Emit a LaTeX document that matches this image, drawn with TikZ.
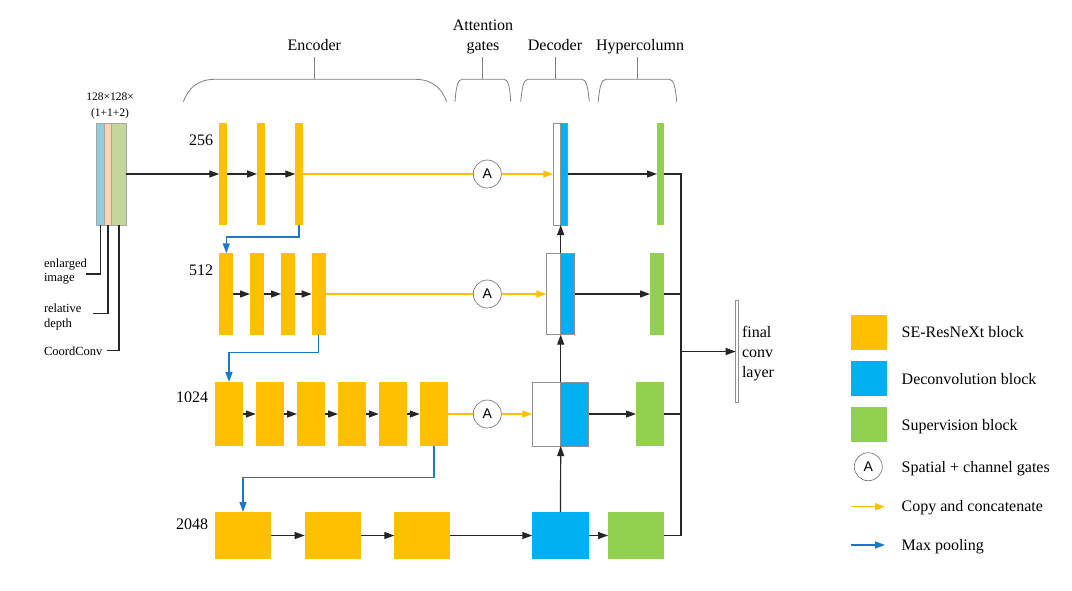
\documentclass[tikz,border=0pt]{standalone}
\usepackage{fontspec}
\setmainfont{Liberation Serif}
\newfontfamily\sansA{Liberation Sans}
\usetikzlibrary{arrows.meta}
\definecolor{yel}{HTML}{FFC000}
\definecolor{blu}{HTML}{00B0F0}
\definecolor{grn}{HTML}{92D050}
\definecolor{poolc}{HTML}{1E78C8}
\definecolor{inblue}{HTML}{92CDDC}
\definecolor{inpink}{HTML}{FBD4B4}
\definecolor{ingreen}{HTML}{C4D79B}
\definecolor{dgray}{HTML}{909090}
\definecolor{lnk}{HTML}{262626}
\begin{document}
\begin{tikzpicture}[x=1pt,y=-1pt,font=\fontsize{16}{20}\selectfont,
  yb/.style={fill=yel,inner sep=0pt,outer sep=0pt},
  bb/.style={fill=blu,inner sep=0pt,outer sep=0pt},
  gb/.style={fill=grn,inner sep=0pt,outer sep=0pt},
  dw/.style={fill=white,draw=dgray,line width=0.8pt,inner sep=0pt,outer sep=0pt},
  db/.style={fill=blu,draw=dgray,line width=0.8pt,inner sep=0pt,outer sep=0pt},
  inb/.style={draw=gray!70,line width=0.5pt,inner sep=0pt,outer sep=0pt,minimum height=102pt},
  gate/.style={circle,draw=gray!85!black,line width=0.6pt,fill=white,minimum size=28pt,inner sep=0pt,font=\sansA\fontsize{14}{14}\selectfont},
  conn/.style={line width=1.2pt,draw=lnk,-{Triangle[length=10pt,width=7pt]}},
  plain/.style={line width=1.2pt,draw=lnk},
  copyl/.style={line width=1.4pt,draw=yel},
  copyarr/.style={line width=1.4pt,draw=yel,-{Triangle[length=10pt,width=7pt]}},
  pool/.style={line width=1.4pt,draw=poolc,-{Triangle[length=10pt,width=7pt]}},
  brace/.style={line width=0.8pt,draw=gray},
  txt/.style={inner sep=0pt,outer sep=0pt},
  small/.style={font=\fontsize{12.5}{14.5}\selectfont}
]
\useasboundingbox[fill=white] (0,0) rectangle (1072,590);

% ---------- headers and braces ----------
\node[txt,anchor=base] (hEnc) at (314.3,50.7) {Encoder};
\node[txt,anchor=base,align=center,font=\fontsize{16}{20.7}\selectfont] (hAtt) at (483,50.7) {Attention\\gates};
\node[txt,anchor=base] (hDec) at (555,50.7) {Decoder};
\node[txt,anchor=base] (hHyp) at (640,50.7) {Hypercolumn};

\draw[brace] (183.3,101.7) .. controls (188,89) and (197,79.3) .. (215,79.3) -- (415,79.3) .. controls (433,79.3) and (442,89) .. (446.7,101.7);
\draw[brace] (314.3,79.3) -- (314.3,56.7);
\draw[brace] (455,101.7) .. controls (456,88) and (457.5,79.3) .. (462,79.3) -- (504,79.3) .. controls (508.5,79.3) and (510,88) .. (510.7,101.7);
\draw[brace] (482.7,79.3) -- (482.7,56.7);
\draw[brace] (520.7,101.7) .. controls (522,88) and (523.5,79.3) .. (528,79.3) -- (582,79.3) .. controls (586.5,79.3) and (588,88) .. (589.3,101.7);
\draw[brace] (555,79.3) -- (555,56.7);
\draw[brace] (598.3,101.7) .. controls (599.5,88) and (601,79.3) .. (606,79.3) -- (669,79.3) .. controls (674,79.3) and (675.5,88) .. (676.7,101.7);
\draw[brace] (637.7,79.3) -- (637.7,56.7);

% ---------- input ----------
\node[inb,fill=inblue,minimum width=7.3pt] (in1) at (100.35,174) {};
\node[inb,fill=inpink,minimum width=7.7pt] (in2) at (107.85,174) {};
\node[inb,fill=ingreen,minimum width=14.3pt] (in3) at (118.85,174) {};
\node[txt,anchor=base,align=center,font=\fontsize{11.5}{15.5}\selectfont] (inlab) at (110,116) {128×128×\\(1+1+2)};

\node[txt,small,anchor=base west,align=left] (t1) at (44,281.5) {enlarged\\image};
\node[txt,small,anchor=base west,align=left] (t2) at (44,327) {relative\\depth};
\node[txt,small,anchor=base west] (t3) at (44,355) {CoordConv};
\coordinate (c1) at (86,274);
\coordinate (c2) at (93,313.3);
\coordinate (c3) at (107,350.7);
\draw[plain,line width=1.3pt] (in1.south) |- (c1);
\draw[plain,line width=1.3pt] (in2.south) |- (c2);
\draw[plain,line width=1.3pt] (in3.south) |- (c3);

% ---------- row labels ----------
\node[txt,anchor=base east] (r1) at (213,145.5) {256};
\node[txt,anchor=base east] (r2) at (213,275.5) {512};
\node[txt,anchor=base east] (r3) at (208,402.5) {1024};
\node[txt,anchor=base east] (r4) at (208,529.5) {2048};

% ---------- encoder ----------
\foreach \n/\x in {a/223,b/260.8,c/299}
  \node[yb,minimum width=7.4pt,minimum height=102pt] (e1\n) at (\x,174) {};
\foreach \n/\x in {a/226.3,b/257,c/288,d/318.7}
  \node[yb,minimum width=14pt,minimum height=81.4pt] (e2\n) at (\x,294) {};
\foreach \n/\x in {a/229,b/269.8,c/311,d/352,e/392.8,f/433.8}
  \node[yb,minimum width=28pt,minimum height=64pt] (e3\n) at (\x,414) {};
\foreach \n/\x in {a/243,b/332.7,c/422.3}
  \node[yb,minimum width=56pt,minimum height=47pt] (e4\n) at (\x,535.5) {};

% ---------- gates ----------
\node[gate] (a1) at (487.3,174) {A};
\node[gate] (a2) at (487.3,294) {A};
\node[gate] (a3) at (487.3,414) {A};

% ---------- decoder ----------
\node[dw,minimum width=7.4pt,minimum height=102pt] (d1w) at (557,174) {};
\node[db,minimum width=7pt,minimum height=102pt] (d1b) at (564.2,174) {};
\node[dw,minimum width=14.4pt,minimum height=81.4pt] (d2w) at (553.5,294) {};
\node[db,minimum width=14pt,minimum height=81.4pt] (d2b) at (567.7,294) {};
\node[dw,minimum width=28.4pt,minimum height=64pt] (d3w) at (546.5,414) {};
\node[db,minimum width=28pt,minimum height=64pt] (d3b) at (574.7,414) {};
\node[bb,minimum width=56.4pt,minimum height=47pt] (d4) at (560.5,535.5) {};

% ---------- hypercolumn ----------
\node[gb,minimum width=7pt,minimum height=102pt] (h1) at (660.5,174) {};
\node[gb,minimum width=14pt,minimum height=81.4pt] (h2) at (657,294) {};
\node[gb,minimum width=28pt,minimum height=64pt] (h3) at (650,414) {};
\node[gb,minimum width=56pt,minimum height=47pt] (h4) at (636,535.5) {};

% ---------- final conv ----------
\node[fill=white,draw=dgray,line width=0.7pt,inner sep=0pt,outer sep=0pt,minimum width=3pt,minimum height=101.6pt] (fc) at (737.2,351.5) {};
\node[txt,anchor=base west,align=left] (fct) at (742,377.5) {final\\conv\\layer};

% ---------- connectors ----------
\draw[conn] (in3.east) -- (e1a.west);
\draw[conn] (e1a.east) -- (e1b.west);
\draw[conn] (e1b.east) -- (e1c.west);
\draw[conn] (e2a.east) -- (e2b.west);
\draw[conn] (e2b.east) -- (e2c.west);
\draw[conn] (e2c.east) -- (e2d.west);
\draw[conn] (e3a.east) -- (e3b.west);
\draw[conn] (e3b.east) -- (e3c.west);
\draw[conn] (e3c.east) -- (e3d.west);
\draw[conn] (e3d.east) -- (e3e.west);
\draw[conn] (e3e.east) -- (e3f.west);
\draw[conn] (e4a.east) -- (e4b.west);
\draw[conn] (e4b.east) -- (e4c.west);
\draw[conn] (e4c.east) -- (d4.west);

\draw[copyl] (e1c.east) -- (a1.west);
\draw[copyarr] (a1.east) -- (d1w.west);
\draw[copyl] (e2d.east) -- (a2.west);
\draw[copyarr] (a2.east) -- (d2w.west);
\draw[copyl] (e3f.east) -- (a3.west);
\draw[copyarr] (a3.east) -- (d3w.west);

\draw[pool] (e1c.south) -- ++(0,12) -| (e2a.north);
\draw[pool] (e2d.south) -- ++(0,17.5) -| (e3a.north);
\draw[pool] (e3f.south) -- ++(0,31.7) -| (e4a.north);

\draw[conn] (d4.north) -- (d3w.south east);
\draw[conn] (d3w.north east) -- (d2w.south east);
\draw[conn] (d2w.north east) -- (d1w.south east);

\draw[conn] (d1b.east) -- (h1.west);
\draw[conn] (d2b.east) -- (h2.west);
\draw[conn] (d3b.east) -- (h3.west);
\draw[conn] (d4.east) -- (h4.west);

\coordinate (bt) at (681,174);
\coordinate (bbot) at (681,535.5);
\draw[plain] (h1.east) -- (bt) -- (bbot) -- (h4.east);
\draw[plain] (h2.east) -- (h2.east -| bt);
\draw[plain] (h3.east) -- (h3.east -| bt);
\draw[conn] (fc.west -| bt) -- (fc.west);

% ---------- legend ----------
\node[yb,minimum width=35.7pt,minimum height=35pt] (ly) at (868.8,332.5) {};
\node[bb,minimum width=35.7pt,minimum height=35pt] (lb) at (868.8,378.5) {};
\node[gb,minimum width=35.7pt,minimum height=35pt] (lgr) at (868.8,424.5) {};
\node[gate] (lga) at (868.3,466.7) {A};
\coordinate (ly1) at (851,506.7);
\coordinate (ly2) at (885,506.7);
\coordinate (lp1) at (851,545);
\coordinate (lp2) at (885,545);
\draw[copyarr] (ly1) -- (ly2);
\draw[pool] (lp1) -- (lp2);
\node[txt,anchor=base west] (lt1) at (901.7,337.7) {SE-ResNeXt block};
\node[txt,anchor=base west] (lt2) at (901.7,384) {Deconvolution block};
\node[txt,anchor=base west] (lt3) at (901.7,430) {Supervision block};
\node[txt,anchor=base west] (lt4) at (901.7,472.7) {Spatial + channel gates};
\node[txt,anchor=base west] (lt5) at (901.7,511.7) {Copy and concatenate};
\node[txt,anchor=base west] (lt6) at (901.7,550) {Max pooling};
\end{tikzpicture}
\end{document}
